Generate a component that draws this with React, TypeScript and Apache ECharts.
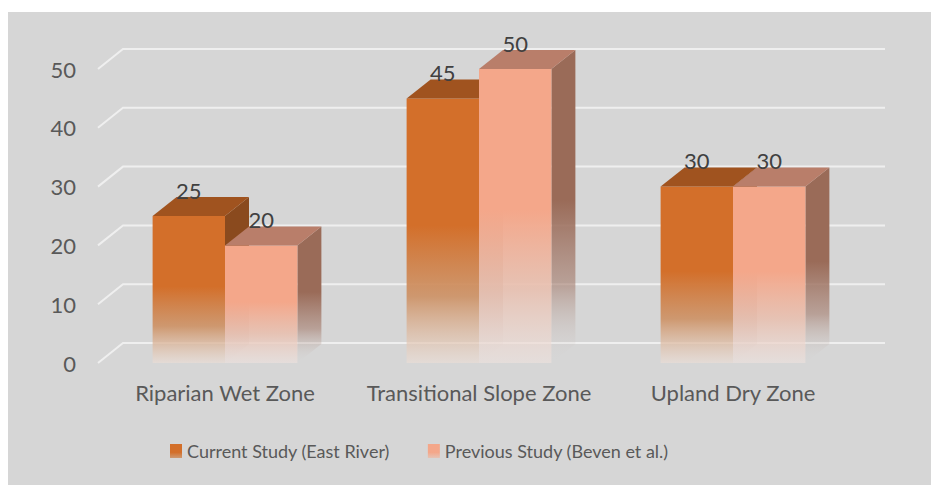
import React, { useEffect, useRef } from "react";
import * as echarts from "echarts";

const categories = ["Riparian Wet Zone", "Transitional Slope Zone", "Upland Dry Zone"];
const currentStudy = [25, 45, 30];
const previousStudy = [20, 50, 30];
const yTicks = [0, 10, 20, 30, 40, 50];
const seriesNames = ["Current Study (East River)", "Previous Study (Beven et al.)"];

const FONT = "Lato";
const BG = "#d6d6d6";

const palettes = [
  { front: "#d36f2a", top: "#a0531f", side: "#8a4a1e", fade: "rgba(236,222,214,0.6)", mid: "rgba(205,145,100,0.9)" },
  { front: "#f4a78a", top: "#b97e6a", side: "#9a6b58", fade: "rgba(238,226,222,0.6)", mid: "rgba(232,192,176,0.9)" },
];

const DX = 24;
const DY = -19;

function fadeGrad(color: string, mid: string, fade: string) {
  return new echarts.graphic.LinearGradient(0, 0, 0, 1, [
    { offset: 0, color },
    { offset: 0.48, color },
    { offset: 0.75, color: mid },
    { offset: 1, color: fade },
  ]);
}

function makeBarSeries(idx: number, values: number[]) {
  const p = palettes[idx];
  return {
    type: "custom",
    name: seriesNames[idx],
    itemStyle: {
      color: new echarts.graphic.LinearGradient(0, 0, 0, 1, [
        { offset: 0, color: p.front },
        { offset: 0.6, color: p.front },
        { offset: 1, color: p.mid },
      ]),
    },
    encode: { x: 0, y: 1 },
    data: values.map((v, i) => [i, v]),
    z: 3 + idx,
    renderItem: (params: any, api: any) => {
      const ci = api.value(0);
      const v = api.value(1);
      const [cx, yTop] = api.coord([ci, v]);
      const y0 = api.coord([ci, 0])[1];
      const band = api.size([1, 0])[0];
      const bw = band * 0.285;
      const xL = idx === 0 ? cx - bw : cx;
      const xR = xL + bw;
      const h = y0 - yTop;
      return {
        type: "group",
        children: [
          {
            type: "polygon",
            shape: { points: [[xR, yTop], [xR + DX, yTop + DY], [xR + DX, y0 + DY], [xR, y0]] },
            style: { fill: fadeGrad(p.side, "rgba(165,125,110,0.6)", "rgba(214,214,214,0.0)") },
          },
          {
            type: "rect",
            shape: { x: xL, y: yTop, width: bw, height: h },
            style: { fill: fadeGrad(p.front, p.mid, p.fade) },
          },
          {
            type: "polygon",
            shape: { points: [[xL, yTop], [xL + DX, yTop + DY], [xR + DX, yTop + DY], [xR, yTop]] },
            style: { fill: p.top },
          },
          {
            type: "text",
            style: {
              text: String(v),
              x: xL + bw / 2,
              y: yTop - 26,
              align: "center",
              verticalAlign: "middle",
              fill: "#404040",
              font: `22px ${FONT}`,
            },
            z2: 10,
          },
        ],
      };
    },
  };
}

export default function App() {
  const ref = useRef<HTMLDivElement>(null);
  useEffect(() => {
    if (!ref.current) return;
    const chart = echarts.init(ref.current, undefined, { renderer: "svg" });
    chart.setOption({
      animation: false,
      backgroundColor: BG,
      textStyle: { fontFamily: FONT },
      grid: { left: 90, right: 71, top: 57, bottom: 122 },
      legend: {
        left: 157,
        top: 425,
        itemWidth: 12,
        itemHeight: 14,
        itemGap: 38,
        icon: "rect",
        textStyle: { fontSize: 18, color: "#595959", fontFamily: FONT },
        data: seriesNames,
      },
      xAxis: {
        type: "category",
        data: categories,
        axisLine: { show: false },
        axisTick: { show: false },
        axisLabel: { interval: 0, margin: 18, fontSize: 22, color: "#595959", fontFamily: FONT },
      },
      yAxis: {
        type: "value",
        min: 0,
        max: 50,
        interval: 10,
        splitLine: { show: false },
        axisLine: { show: false },
        axisTick: { show: false },
        axisLabel: { margin: 22, fontSize: 22, color: "#595959", fontFamily: FONT },
      },
      series: [
        {
          type: "custom",
          name: "grid",
          silent: true,
          z: 1,
          encode: { x: 0, y: 1 },
          data: yTicks.map((t) => [0, t]),
          renderItem: (params: any, api: any) => {
            const y = api.coord([0, api.value(1)])[1];
            const cs = params.coordSys;
            const x0 = cs.x;
            const x1 = cs.x + cs.width;
            return {
              type: "polyline",
              shape: { points: [[x0, y], [x0 + 25, y - 20], [x1 + 25, y - 20]] },
              style: { stroke: "#efefef", lineWidth: 2, fill: "none" },
            };
          },
        },
        makeBarSeries(0, currentStudy),
        makeBarSeries(1, previousStudy),
      ],
    });
    return () => chart.dispose();
  }, []);
  return (
    <div
      ref={ref}
      style={{ position: "absolute", left: 8, top: 12, width: 923, height: 473 }}
    />
  );
}
